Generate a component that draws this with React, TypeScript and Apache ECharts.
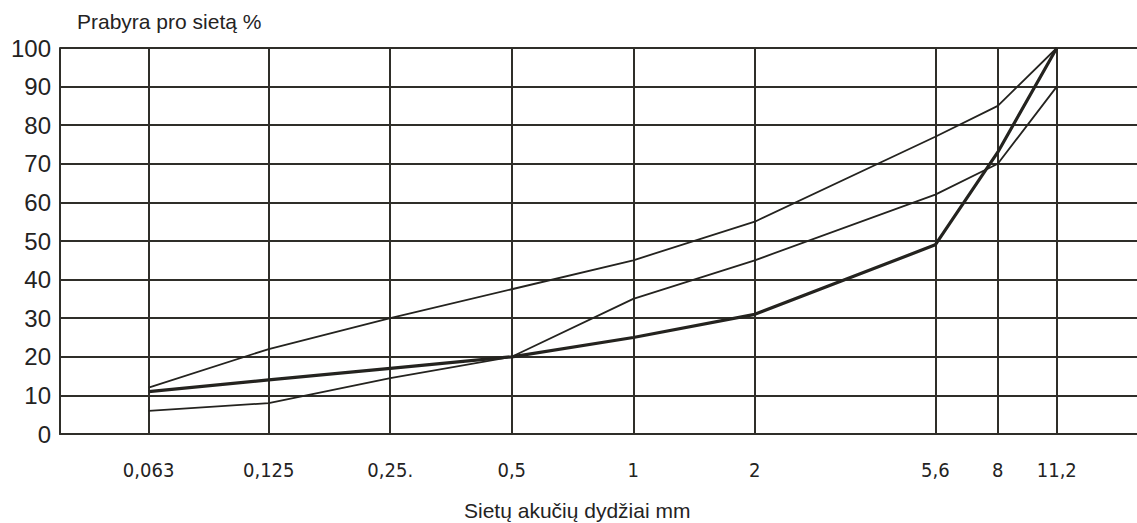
import React, { useEffect, useRef } from "react";
import * as echarts from "echarts";

const sieveSizes = [0.063, 0.125, 0.25, 0.5, 1, 2, 5.6, 8, 11.2];
const sieveLabels = ["0,063", "0,125", "0,25.", "0,5", "1", "2", "5,6", "8", "11,2"];
const upperLimit = [12, 22, 30, 37.5, 45, 55, 77, 85, 100];
const lowerLimit = [6, 8, 14.5, 20, 35, 45, 62, 70, 90];
const mixCurve = [11, 14, 17, 20, 25, 31, 49, 73, 100];
const yTicks = [0, 10, 20, 30, 40, 50, 60, 70, 80, 90, 100];

const ink = "#24231f";
const gridInk = "#2f2e29";

const pairs = (vals: number[]) => sieveSizes.map((s, i) => [s, vals[i]]);

export default function App() {
  const ref = useRef<HTMLDivElement>(null);
  useEffect(() => {
    if (!ref.current) return;
    const chart = echarts.init(ref.current, null, { renderer: "svg" });
    chart.setOption({
      animation: false,
      backgroundColor: "#ffffff",
      grid: { left: 60, right: 0, top: 48, bottom: 89, containLabel: false },
      graphic: [
        {
          type: "text",
          left: 77,
          top: 11,
          style: {
            text: "Prabyra pro sietą %",
            fill: ink,
            font: "21px 'Liberation Sans', Arial, sans-serif",
          },
        },
        {
          type: "text",
          left: 464,
          top: 500,
          style: {
            text: "Sietų akučių dydžiai mm",
            fill: ink,
            font: "21px 'Liberation Sans', Arial, sans-serif",
          },
        },
      ],
      xAxis: {
        type: "log",
        logBase: 2,
        min: 0.038,
        max: 17.7,
        axisLine: { show: true, lineStyle: { color: gridInk, width: 2 } },
        axisTick: { show: false, customValues: sieveSizes },
        splitLine: { show: true, lineStyle: { color: gridInk, width: 2 } },
        minorSplitLine: { show: false },
        axisLabel: {
          customValues: sieveSizes,
          margin: 26,
          color: ink,
          fontSize: 20,
          fontFamily: "'DejaVu Sans Condensed', 'Liberation Sans Narrow', sans-serif",
          formatter: (v: number) => {
            let best = 0;
            sieveSizes.forEach((s, i) => {
              if (Math.abs(Math.log(s) - Math.log(v)) < Math.abs(Math.log(sieveSizes[best]) - Math.log(v))) best = i;
            });
            return sieveLabels[best];
          },
        },
      },
      yAxis: {
        type: "value",
        min: 0,
        max: 100,
        interval: 10,
        axisLine: { show: true, lineStyle: { color: gridInk, width: 2 } },
        axisTick: { show: false },
        splitLine: { show: true, lineStyle: { color: gridInk, width: 2 } },
        axisLabel: {
          margin: 9,
          color: ink,
          fontSize: 24,
          fontFamily: "'Liberation Sans', Arial, sans-serif",
          formatter: (v: number) => (yTicks.includes(v) ? String(v) : ""),
        },
      },
      series: [
        {
          type: "line",
          name: "upper",
          data: pairs(upperLimit),
          symbol: "none",
          lineStyle: { color: ink, width: 1.8 },
        },
        {
          type: "line",
          name: "lower",
          data: pairs(lowerLimit),
          symbol: "none",
          lineStyle: { color: ink, width: 1.8 },
        },
        {
          type: "line",
          name: "mix",
          data: pairs(mixCurve),
          symbol: "none",
          lineStyle: { color: ink, width: 3.2 },
        },
      ],
    });
    return () => chart.dispose();
  }, []);
  return <div ref={ref} style={{ width: 1137, height: 523, position: "absolute", left: 0, top: 0 }} />;
}
